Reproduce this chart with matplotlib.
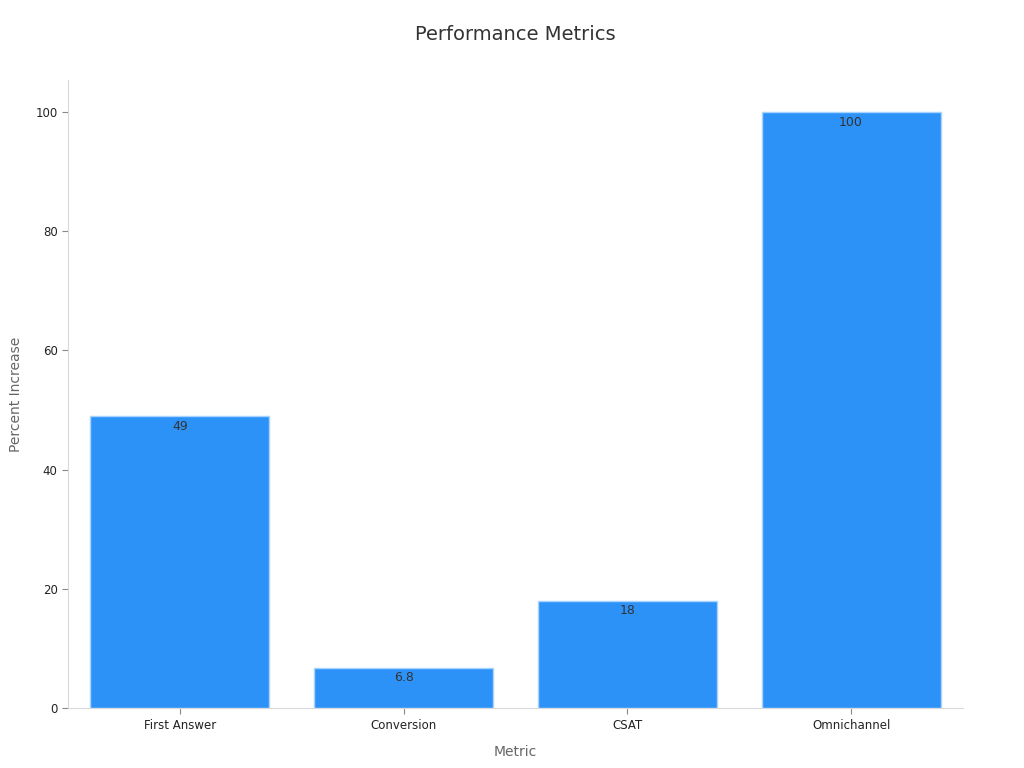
import matplotlib
matplotlib.use("Agg")
import matplotlib.pyplot as plt

plt.rcParams["font.family"] = ["DejaVu Sans"]

# data
metrics = ["First Answer", "Conversion", "CSAT", "Omnichannel"]
increase = [49, 6.8, 18, 100]
bar_text = ["49", "6.8", "18", "100"]

fig = plt.figure(figsize = (10.24, 7.68), dpi = 100)
ax = fig.add_axes([0.0664, 0.078, 0.874, 0.818])

rects = ax.bar(range(len(metrics)), increase, 0.8,
               color = "#2d92f8",
               edgecolor = "#a8d4ff",
               linewidth = 1)
ax.bar_label(rects, labels = bar_text, padding = -12, fontsize = 9, color = "#333333")

ax.set_xlim(-0.5, 3.5)
ax.set_ylim(0, 105.4)
ax.set_xticks(range(len(metrics)), metrics)
ax.set_yticks([0, 20, 40, 60, 80, 100])

ax.set_title("Performance Metrics", fontsize = 14, color = "#333333", pad = 29)
ax.set_xlabel("Metric", fontsize = 10, color = "#666666", labelpad = 10)
ax.set_ylabel("Percent Increase", fontsize = 10, color = "#666666", labelpad = 9)

for side in ["top", "right"]:
    ax.spines[side].set_visible(False)
for side in ["left", "bottom"]:
    ax.spines[side].set_color("#d9d9d9")
ax.tick_params(axis = "both", labelsize = 8.5, colors = "#222222", length = 4)
ax.tick_params(axis = "both", color = "#888888")

fig.savefig("out.png", dpi = 100)
